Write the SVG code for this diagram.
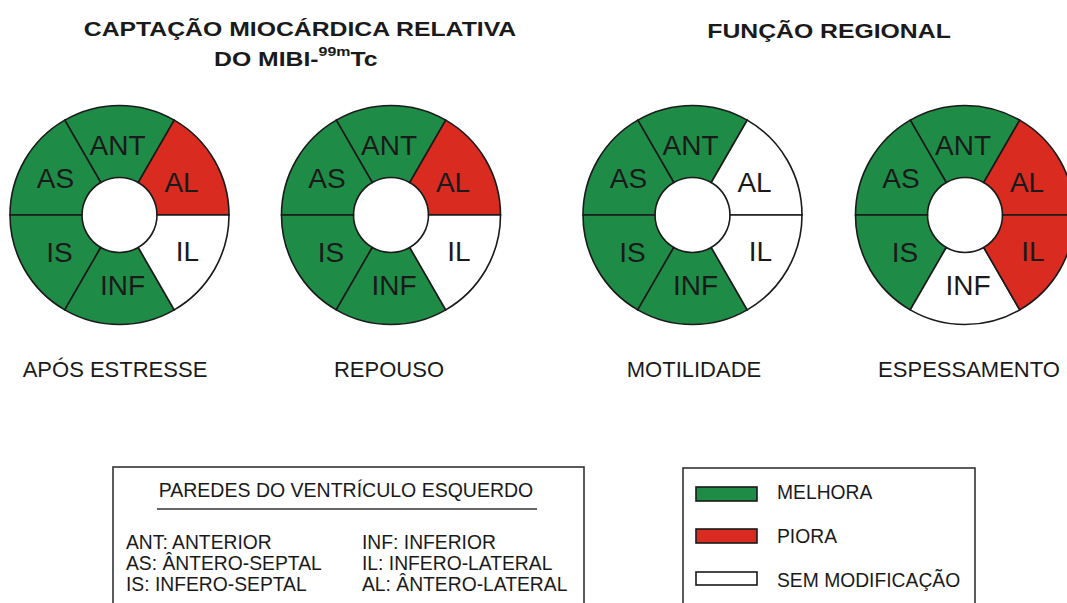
<svg xmlns="http://www.w3.org/2000/svg" width="1067" height="603" viewBox="0 0 1067 603">
<style>
.t{font-family:"Liberation Sans",Arial,sans-serif;fill:#1a1a1a}
.title{font-size:21px;font-weight:bold}
.lbl{font-size:28px;text-anchor:middle}
.cap{font-size:22px;text-anchor:middle}
.leg{font-size:19.3px}
.seg{stroke:#1a1a1a;stroke-width:1.6}
.g{fill:#1e8c47}
.r{fill:#d92b1f}
.w{fill:#ffffff}
.box{fill:none;stroke:#333;stroke-width:1.6}
</style>
<defs>
<path id="sAL" d="M37.5 0 L109.5 0 A109.5 109.5 0 0 0 54.75 -94.83 L18.75 -32.48 A37.5 37.5 0 0 1 37.5 0 Z"/>
<path id="sANT" d="M18.75 -32.48 L54.75 -94.83 A109.5 109.5 0 0 0 -54.75 -94.83 L-18.75 -32.48 A37.5 37.5 0 0 1 18.75 -32.48 Z"/>
<path id="sAS" d="M-18.75 -32.48 L-54.75 -94.83 A109.5 109.5 0 0 0 -109.5 0 L-37.5 0 A37.5 37.5 0 0 1 -18.75 -32.48 Z"/>
<path id="sIS" d="M-37.5 0 L-109.5 0 A109.5 109.5 0 0 0 -54.75 94.83 L-18.75 32.48 A37.5 37.5 0 0 1 -37.5 0 Z"/>
<path id="sINF" d="M-18.75 32.48 L-54.75 94.83 A109.5 109.5 0 0 0 54.75 94.83 L18.75 32.48 A37.5 37.5 0 0 1 -18.75 32.48 Z"/>
<path id="sIL" d="M18.75 32.48 L54.75 94.83 A109.5 109.5 0 0 0 109.5 0 L37.5 0 A37.5 37.5 0 0 1 18.75 32.48 Z"/>
<g id="labels">
<text class="t lbl" x="-2" y="-60">ANT</text>
<text class="t lbl" x="-64" y="-27">AS</text>
<text class="t lbl" x="62" y="-23">AL</text>
<text class="t lbl" x="-60" y="47">IS</text>
<text class="t lbl" x="68" y="46">IL</text>
<text class="t lbl" x="3" y="80">INF</text>
</g>
</defs>
<rect width="1067" height="603" fill="#ffffff"/>

<g id="titles">
<text class="t title" transform="translate(300,36) scale(1.18,1)" text-anchor="middle">CAPTAÇÃO MIOCÁRDICA RELATIVA</text>
<text class="t title" transform="translate(214,66) scale(1.18,1)">DO MIBI-<tspan font-size="13.5" dy="-10">99m</tspan><tspan dy="10">Tc</tspan></text>
<text class="t title" transform="translate(829,38) scale(1.18,1)" text-anchor="middle">FUNÇÃO REGIONAL</text>
</g>

<g id="donut-apos-estresse" transform="translate(119.5,215)">
<use href="#sANT" class="seg g"/><use href="#sAS" class="seg g"/><use href="#sIS" class="seg g"/>
<use href="#sINF" class="seg g"/><use href="#sAL" class="seg r"/><use href="#sIL" class="seg w"/>
<use href="#labels"/>
</g>
<g id="donut-repouso" transform="translate(391,215)">
<use href="#sANT" class="seg g"/><use href="#sAS" class="seg g"/><use href="#sIS" class="seg g"/>
<use href="#sINF" class="seg g"/><use href="#sAL" class="seg r"/><use href="#sIL" class="seg w"/>
<use href="#labels"/>
</g>
<g id="donut-motilidade" transform="translate(692.5,215)">
<use href="#sANT" class="seg g"/><use href="#sAS" class="seg g"/><use href="#sIS" class="seg g"/>
<use href="#sINF" class="seg g"/><use href="#sAL" class="seg w"/><use href="#sIL" class="seg w"/>
<use href="#labels"/>
</g>
<g id="donut-espessamento" transform="translate(965,215)">
<use href="#sANT" class="seg g"/><use href="#sAS" class="seg g"/><use href="#sIS" class="seg g"/>
<use href="#sINF" class="seg w"/><use href="#sAL" class="seg r"/><use href="#sIL" class="seg r"/>
<use href="#labels"/>
</g>

<g id="captions">
<text class="t cap" x="115" y="377">APÓS ESTRESSE</text>
<text class="t cap" x="389" y="377">REPOUSO</text>
<text class="t cap" x="694" y="377">MOTILIDADE</text>
<text class="t cap" x="969" y="377">ESPESSAMENTO</text>
</g>

<g id="legend-paredes">
<rect class="box" x="113" y="467" width="471" height="150"/>
<text class="t" x="346" y="497" font-size="19.5" text-anchor="middle">PAREDES DO VENTRÍCULO ESQUERDO</text>
<line x1="157" y1="509" x2="537" y2="509" stroke="#333" stroke-width="1.6"/>
<text class="t leg" x="126" y="549">ANT: ANTERIOR</text>
<text class="t leg" x="126" y="570">AS: ÂNTERO-SEPTAL</text>
<text class="t leg" x="126" y="591">IS: INFERO-SEPTAL</text>
<text class="t leg" x="362" y="549">INF: INFERIOR</text>
<text class="t leg" x="362" y="570">IL: INFERO-LATERAL</text>
<text class="t leg" x="362" y="591">AL: ÂNTERO-LATERAL</text>
</g>

<g id="legend-cores">
<rect class="box" x="683" y="468" width="292" height="150"/>
<rect class="seg g" x="696" y="487" width="61" height="14"/>
<rect class="seg r" x="696" y="529" width="61" height="14"/>
<rect class="seg w" x="696" y="572" width="61" height="13"/>
<text class="t leg" x="777" y="499">MELHORA</text>
<text class="t leg" x="777" y="543">PIORA</text>
<text class="t leg" x="777" y="587">SEM MODIFICAÇÃO</text>
</g>
</svg>
